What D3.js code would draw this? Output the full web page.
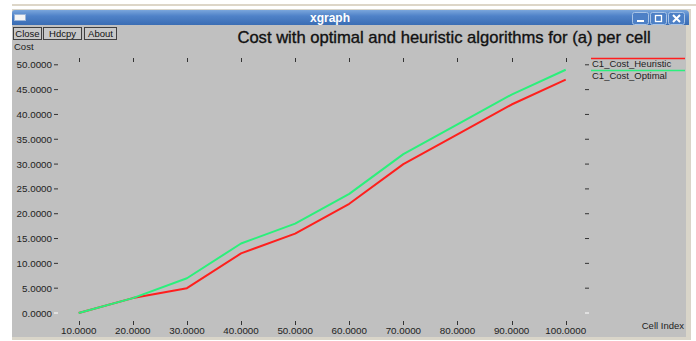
<!DOCTYPE html>
<html>
<head>
<meta charset="utf-8">
<script src="https://cdn.jsdelivr.net/npm/d3@7"></script>
<style>
  html, body { margin: 0; padding: 0; background: #ffffff; }
  svg { display: block; }
  text { font-family: "Liberation Sans", Arial, sans-serif; }
</style>
</head>
<body>
<svg id="chart" width="696" height="341"></svg>
<script>
// Cell index on the x axis
const cells = [10, 20, 30, 40, 50, 60, 70, 80, 90, 100];
// Cost per cell for each algorithm
const costHeuristic = [0, 3, 5, 12, 16, 22, 30, 36, 42, 47];
const costOptimal   = [0, 3, 7, 14, 18, 24, 32, 38, 44, 49];
// Axis tick values
const xTicks = [10, 20, 30, 40, 50, 60, 70, 80, 90, 100];
const yTicks = [0, 5, 10, 15, 20, 25, 30, 35, 40, 45, 50];

const seriesNames = ["C1_Cost_Heuristic", "C1_Cost_Optimal"];
const seriesColors = ["#ff1e1e", "#2af07c"];
const seriesValues = [costHeuristic, costOptimal];

const svg = d3.select("#chart");

// ---- window frame ----
svg.append("line").attr("x1", 12).attr("x2", 696).attr("y1", 5).attr("y2", 5)
  .attr("stroke", "#ddd6c8").attr("stroke-width", 2);
svg.append("rect").attr("x", 12).attr("y", 9).attr("width", 679).attr("height", 331)
  .attr("fill", "#d9d5c9");

const grad = svg.append("defs").append("linearGradient")
  .attr("id", "tb").attr("x1", 0).attr("x2", 0).attr("y1", 0).attr("y2", 1);
grad.append("stop").attr("offset", "0%").attr("stop-color", "#7aa6dc");
grad.append("stop").attr("offset", "40%").attr("stop-color", "#4f82c8");
grad.append("stop").attr("offset", "100%").attr("stop-color", "#3a6db4");
svg.append("path")
  .attr("d", "M12,25 L12,13 Q12,10 15,10 L685,10 Q689,10 689,14 L689,25 Z")
  .attr("fill", "url(#tb)");
svg.append("rect").attr("x", 14.5).attr("y", 14.5).attr("width", 11).attr("height", 6)
  .attr("fill", "#f4f4f4").attr("stroke", "#9bb5d8");
svg.append("text").attr("x", 330).attr("y", 22).attr("text-anchor", "middle")
  .attr("font-size", 12).attr("font-weight", "bold").attr("fill", "#ffffff").text("xgraph");

// title bar controls
[632, 650, 668].forEach((bx, i) => {
  const g = svg.append("g");
  g.append("rect").attr("x", bx + 0.5).attr("y", 12.5).attr("width", 16).attr("height", 12)
    .attr("rx", 2).attr("fill", "#4d80c6").attr("stroke", "#a9c4e6");
  if (i === 0) g.append("rect").attr("x", bx + 5).attr("y", 20).attr("width", 7).attr("height", 2).attr("fill", "#fff");
  if (i === 1) g.append("rect").attr("x", bx + 5.5).attr("y", 15.5).attr("width", 6).attr("height", 6)
    .attr("fill", "none").attr("stroke", "#fff").attr("stroke-width", 1.3);
  if (i === 2) g.append("path").attr("d", `M${bx+5},15 L${bx+12},22 M${bx+12},15 L${bx+5},22`)
    .attr("stroke", "#fff").attr("stroke-width", 2);
});

// client area
svg.append("rect").attr("x", 12).attr("y", 25).attr("width", 674).attr("height", 312)
  .attr("fill", "#c0c0c0");

// buttons
[["Close", 13, 28], ["Hdcpy", 43, 38], ["About", 84, 32]].forEach(([t, bx, bw]) => {
  svg.append("rect").attr("x", bx + 0.5).attr("y", 27.5).attr("width", bw).attr("height", 12)
    .attr("fill", "#c8c8c8").attr("stroke", "#404040");
  svg.append("text").attr("x", bx + bw / 2 + 0.5).attr("y", 37).attr("text-anchor", "middle")
    .attr("font-size", 9.5).attr("fill", "#111").text(t);
});

svg.append("text").attr("x", 444).attr("y", 43).attr("text-anchor", "middle")
  .attr("font-size", 16.6).attr("fill", "#111")
  .attr("stroke", "#111").attr("stroke-width", 0.35)
  .text("Cost with optimal and heuristic algorithms for (a) per cell");

svg.append("text").attr("x", 14).attr("y", 50).attr("font-size", 9.5).attr("fill", "#222").text("Cost");
svg.append("text").attr("x", 684).attr("y", 329).attr("text-anchor", "end")
  .attr("font-size", 9.5).attr("fill", "#222").text("Cell Index");

// ---- scales ----
const x = d3.scaleLinear().domain([10, 100]).range([78.7, 565.7]);
const y = d3.scaleLinear().domain([0, 50]).range([313, 64.8]);

// y tick labels on the left, dash marks on both sides
const yAxis = svg.append("g");
yTicks.forEach(v => {
  const yy = y(v);
  yAxis.append("text").attr("x", 52).attr("y", yy + 3.5).attr("text-anchor", "end")
    .attr("font-size", 9.8).attr("fill", "#222").text(v.toFixed(4));
  const c = v === 0 ? "#ffffff" : "#333";
  yAxis.append("line").attr("x1", 54).attr("x2", 58).attr("y1", yy).attr("y2", yy)
    .attr("stroke", c).attr("stroke-width", 1);
  yAxis.append("line").attr("x1", 585).attr("x2", 589).attr("y1", yy).attr("y2", yy)
    .attr("stroke", c).attr("stroke-width", 1);
});

// x tick labels at the bottom, small marks top and bottom
const xAxis = svg.append("g");
xTicks.forEach(v => {
  const xx = Math.round(x(v)) + 0.5;
  xAxis.append("line").attr("x1", xx).attr("x2", xx).attr("y1", 58).attr("y2", 62)
    .attr("stroke", "#333").attr("stroke-width", 1);
  xAxis.append("line").attr("x1", xx).attr("x2", xx).attr("y1", 321).attr("y2", 325)
    .attr("stroke", "#333").attr("stroke-width", 1);
  xAxis.append("text").attr("x", x(v)).attr("y", 334).attr("text-anchor", "middle")
    .attr("font-size", 9.8).attr("fill", "#222").text(v.toFixed(4));
});

// ---- series lines (optimal drawn last, covering the shared first segment) ----
const line = d3.line().x(d => x(d[0])).y(d => y(d[1]));
seriesValues.forEach((vals, i) => {
  svg.append("path")
    .datum(cells.map((c, k) => [c, vals[k]]))
    .attr("d", line)
    .attr("fill", "none")
    .attr("stroke", seriesColors[i])
    .attr("stroke-width", 2)
    .attr("stroke-linejoin", "round");
});

// ---- legend ----
seriesNames.forEach((name, i) => {
  const ly = 58.5 + i * 12;
  svg.append("line").attr("x1", 591).attr("x2", 685).attr("y1", ly).attr("y2", ly)
    .attr("stroke", seriesColors[i]).attr("stroke-width", 1.5);
  svg.append("text").attr("x", 592).attr("y", ly + 8).attr("font-size", 9.5)
    .attr("fill", "#222").text(name);
});
</script>
</body>
</html>
